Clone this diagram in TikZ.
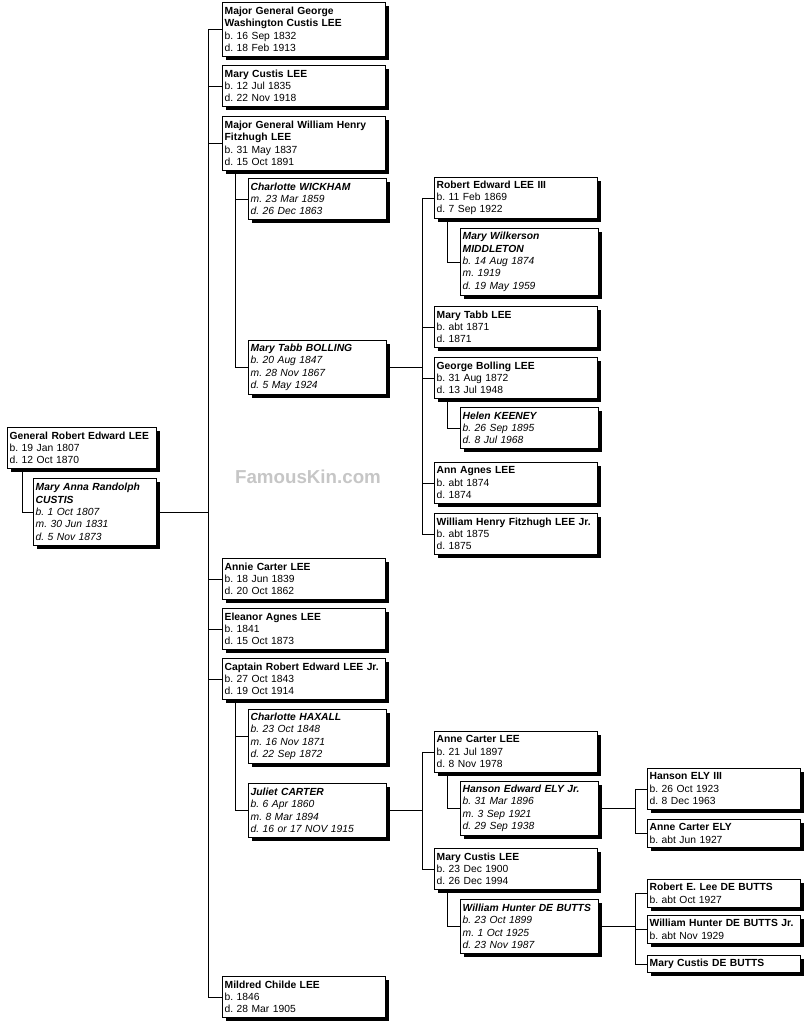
\documentclass[tikz,border=0pt]{standalone}
\usepackage{fontspec}
\setmainfont{Liberation Sans}
\usetikzlibrary{positioning, shadows, calc}
\frenchspacing

\begin{document}
\begin{tikzpicture}[
            x=0.03cm, y=-0.03cm,
            box/.style={rectangle, draw, fill=white, anchor=north west, align=left,
                    font=\fontsize{8.8}{10.6}\selectfont, inner xsep=2pt, inner ysep=1pt,
                    line width=0.6pt,
                    drop shadow={shadow xshift=0.12cm, shadow yshift=-0.12cm, opacity=1, fill=black}},
            pbox/.style={box, text width=4.95cm-6pt},
            sbox/.style={box, text width=4.2cm-6pt, font=\fontsize{8.8}{10.6}\selectfont\itshape},
            gbox/.style={box, text width=4.65cm-6pt},
            link/.style={line width=0.6pt},
            ]
            \useasboundingbox (0,0) rectangle (812,1024);

            \node[font=\bfseries\fontsize{16}{19}\selectfont, text=gray!45] (mark) at (308,477) {FamousKin.com};

            % root couple
            \node[box, text width=4.53cm-6pt, minimum height=1.23cm] (rel) at (7,427) {\textbf{General Robert Edward LEE}\\b. 19 Jan 1807\\d. 12 Oct 1870};
            \node[sbox, text width=3.75cm-6pt, minimum height=2.01cm] (custis) at (33,478) {\textbf{Mary Anna Randolph}\\\textbf{CUSTIS}\\b. 1 Oct 1807\\m. 30 Jun 1831\\d. 5 Nov 1873};
            \draw[link] ([xshift=0.45cm]rel.south west) |- (custis.west);

            % children
            \node[pbox, minimum height=1.62cm] (gwc) at (222,2) {\textbf{Major General George}\\\textbf{Washington Custis LEE}\\b. 16 Sep 1832\\d. 18 Feb 1913};
            \node[pbox, minimum height=1.23cm] (mcl) at (222,65) {\textbf{Mary Custis LEE}\\b. 12 Jul 1835\\d. 22 Nov 1918};
            \node[pbox, minimum height=1.62cm] (whf) at (222,116) {\textbf{Major General William Henry}\\\textbf{Fitzhugh LEE}\\b. 31 May 1837\\d. 15 Oct 1891};
            \node[pbox, minimum height=1.23cm] (acl) at (222,558) {\textbf{Annie Carter LEE}\\b. 18 Jun 1839\\d. 20 Oct 1862};
            \node[pbox, minimum height=1.23cm] (eal) at (222,608) {\textbf{Eleanor Agnes LEE}\\b. 1841\\d. 15 Oct 1873};
            \node[pbox, minimum height=1.23cm] (rej) at (222,658) {\textbf{Captain Robert Edward LEE Jr.}\\b. 27 Oct 1843\\d. 19 Oct 1914};
            \node[pbox, minimum height=1.23cm] (mil) at (222,976) {\textbf{Mildred Childe LEE}\\b. 1846\\d. 28 Mar 1905};
            \coordinate (busa) at (208,0);
            \draw[link] (custis.east) -- (custis.east -| busa);
            \draw[link] (gwc.west -| busa) -- (mil.west -| busa);
            \foreach \n in {gwc, mcl, whf, acl, eal, rej, mil}
                \draw[link] (\n.west -| busa) -- (\n.west);

            % William Henry Fitzhugh LEE
            \node[sbox, minimum height=1.23cm] (wick) at (248,178) {\textbf{Charlotte WICKHAM}\\m. 23 Mar 1859\\d. 26 Dec 1863};
            \node[sbox, minimum height=1.62cm] (boll) at (248,340) {\textbf{Mary Tabb BOLLING}\\b. 20 Aug 1847\\m. 28 Nov 1867\\d. 5 May 1924};
            \draw[link] ([xshift=0.39cm]whf.south west) |- (wick.west);
            \draw[link] ([xshift=0.39cm]whf.south west) |- (boll.west);

            \node[pbox, minimum height=1.23cm] (re3) at (434,177) {\textbf{Robert Edward LEE III}\\b. 11 Feb 1869\\d. 7 Sep 1922};
            \node[sbox, minimum height=2.01cm] (midd) at (460,228) {\textbf{Mary Wilkerson}\\\textbf{MIDDLETON}\\b. 14 Aug 1874\\m. 1919\\d. 19 May 1959};
            \node[pbox, minimum height=1.23cm] (mtl) at (434,306) {\textbf{Mary Tabb LEE}\\b. abt 1871\\d. 1871};
            \node[pbox, minimum height=1.23cm] (gbl) at (434,357) {\textbf{George Bolling LEE}\\b. 31 Aug 1872\\d. 13 Jul 1948};
            \node[sbox, minimum height=1.23cm] (keen) at (460,407) {\textbf{Helen KEENEY}\\b. 26 Sep 1895\\d. 8 Jul 1968};
            \node[pbox, minimum height=1.23cm] (aal) at (434,462) {\textbf{Ann Agnes LEE}\\b. abt 1874\\d. 1874};
            \node[pbox, minimum height=1.23cm] (whj) at (434,513) {\textbf{William Henry Fitzhugh LEE Jr.}\\b. abt 1875\\d. 1875};
            \draw[link] ([xshift=0.39cm]re3.south west) |- (midd.west);
            \draw[link] ([xshift=0.39cm]gbl.south west) |- (keen.west);
            \coordinate (busb) at (422,0);
            \draw[link] (boll.east) -- (boll.east -| busb);
            \draw[link] (re3.west -| busb) -- (whj.west -| busb);
            \foreach \n in {re3, mtl, gbl, aal, whj}
                \draw[link] (\n.west -| busb) -- (\n.west);

            % Captain Robert Edward LEE Jr.
            \node[sbox, minimum height=1.62cm] (haxa) at (248,709) {\textbf{Charlotte HAXALL}\\b. 23 Oct 1848\\m. 16 Nov 1871\\d. 22 Sep 1872};
            \node[sbox, minimum height=1.62cm] (cart) at (248,783) {\textbf{Juliet CARTER}\\b. 6 Apr 1860\\m. 8 Mar 1894\\d. 16 or 17 NOV 1915};
            \draw[link] ([xshift=0.39cm]rej.south west) |- (haxa.west);
            \draw[link] ([xshift=0.39cm]rej.south west) |- (cart.west);

            \node[pbox, minimum height=1.23cm] (anne) at (434,731) {\textbf{Anne Carter LEE}\\b. 21 Jul 1897\\d. 8 Nov 1978};
            \node[sbox, minimum height=1.62cm] (ely) at (460,781) {\textbf{Hanson Edward ELY Jr.}\\b. 31 Mar 1896\\m. 3 Sep 1921\\d. 29 Sep 1938};
            \node[pbox, minimum height=1.23cm] (mcl2) at (434,848) {\textbf{Mary Custis LEE}\\b. 23 Dec 1900\\d. 26 Dec 1994};
            \node[sbox, minimum height=1.62cm] (debu) at (460,899) {\textbf{William Hunter DE BUTTS}\\b. 23 Oct 1899\\m. 1 Oct 1925\\d. 23 Nov 1987};
            \draw[link] ([xshift=0.39cm]anne.south west) |- (ely.west);
            \draw[link] ([xshift=0.39cm]mcl2.south west) |- (debu.west);
            \coordinate (busc) at (422,0);
            \draw[link] (cart.east) -- (cart.east -| busc);
            \draw[link] (anne.west -| busc) -- (mcl2.west -| busc);
            \foreach \n in {anne, mcl2}
                \draw[link] (\n.west -| busc) -- (\n.west);

            % grandchildren
            \node[gbox, minimum height=1.23cm] (he3) at (647,768) {\textbf{Hanson ELY III}\\b. 26 Oct 1923\\d. 8 Dec 1963};
            \node[gbox, minimum height=0.84cm] (ace) at (647,819) {\textbf{Anne Carter ELY}\\b. abt Jun 1927};
            \node[gbox, minimum height=0.84cm] (rdb) at (647,879) {\textbf{Robert E. Lee DE BUTTS}\\b. abt Oct 1927};
            \node[gbox, minimum height=0.84cm] (wdb) at (647,915) {\textbf{William Hunter DE BUTTS Jr.}\\b. abt Nov 1929};
            \node[gbox, minimum height=0.51cm] (mdb) at (647,955) {\textbf{Mary Custis DE BUTTS}};
            \coordinate (busd) at (635,0);
            \draw[link] (ely.east) -- (ely.east -| busd);
            \draw[link] (he3.west -| busd) -- (ace.west -| busd);
            \draw[link] (debu.east) -- (debu.east -| busd);
            \draw[link] (rdb.west -| busd) -- (mdb.west -| busd);
            \foreach \n in {he3, ace, rdb, wdb, mdb}
                \draw[link] (\n.west -| busd) -- (\n.west);

        \end{tikzpicture}
\end{document}
